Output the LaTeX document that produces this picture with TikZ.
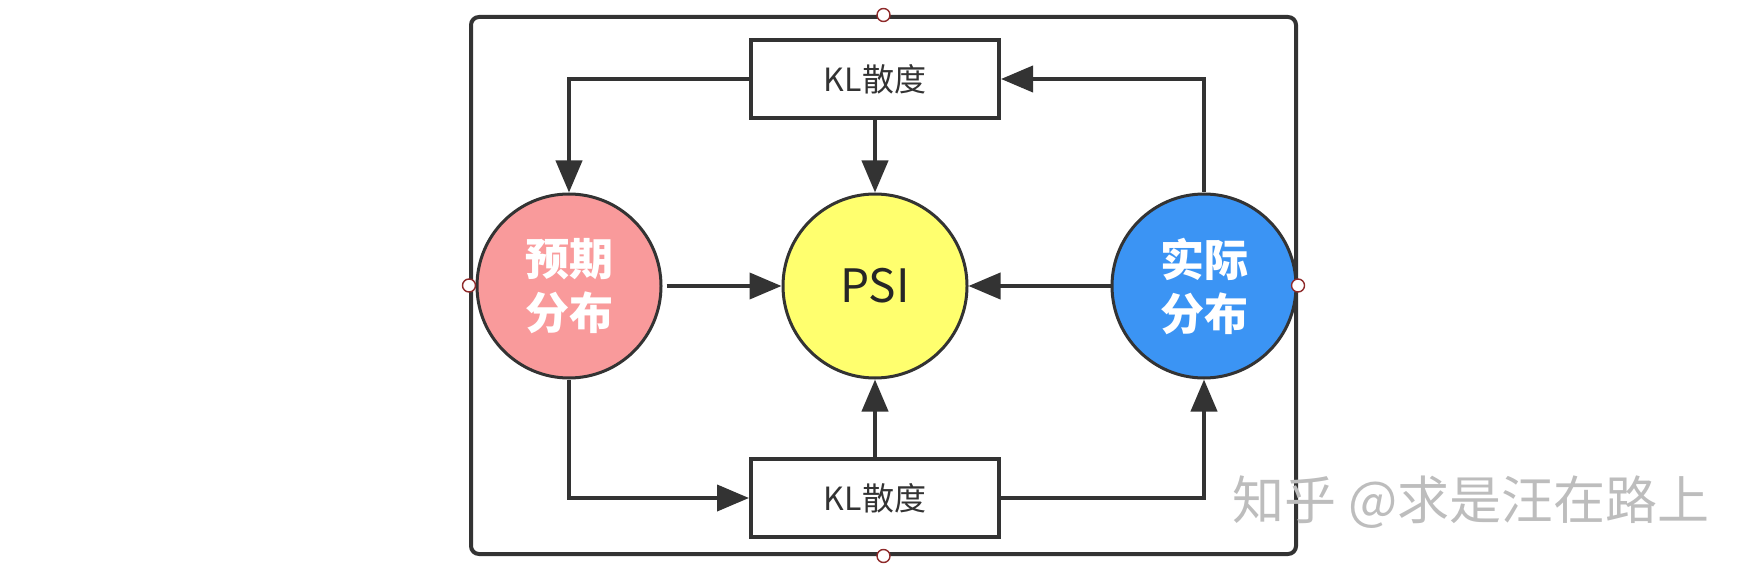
\documentclass[tikz,border=0pt]{standalone}
\usepackage{fontspec}
\setmainfont{Noto Sans CJK SC}
\usetikzlibrary{arrows.meta}
\definecolor{linedark}{HTML}{333333}
\definecolor{expectfill}{HTML}{F99A9B}
\definecolor{psifill}{HTML}{FFFF6E}
\definecolor{actualfill}{HTML}{3B94F4}
\definecolor{handlered}{HTML}{8E2A2A}
\definecolor{marktext}{HTML}{BDBDBD}

\begin{document}
\begin{tikzpicture}[
    x=0.5pt, y=-0.5pt,
    >={Triangle[length=16pt, width=13pt]},
    every node/.style={inner sep=0pt},
    distcircle/.style={
        circle, draw=linedark, line width=1.5pt, minimum size=92pt,
        font=\bfseries\fontsize{22}{27}\selectfont, text=white, align=center
    },
    klbox/.style={
        draw=linedark, line width=2pt, fill=white,
        minimum width=124pt, minimum height=39pt,
        font=\fontsize{16}{18}\selectfont, text=linedark
    },
    framebox/.style={
        draw=linedark, line width=2pt, rounded corners=4pt,
        minimum width=412.5pt, minimum height=268.5pt
    },
    arrstyle/.style={->, line width=2pt, linedark},
    handle/.style={circle, draw=handlered, line width=0.7pt, fill=white, minimum size=6.5pt},
    marklabel/.style={font=\fontsize{26}{30}\selectfont, text=marktext, anchor=west},
]
\useasboundingbox (0,0) rectangle (1760,572);

% === Outer frame ===
\node[framebox] (frame) at (883.5,285.5) {};

% === Distributions and PSI ===
\node[distcircle, fill=expectfill] (pre) at (569,286) {预期\\分布};
\node[distcircle, fill=psifill, text=black!85, font=\fontsize{23}{26}\selectfont] (psi) at (875,286) {PSI};
\node[distcircle, fill=actualfill] (act) at (1204,286) {实际\\分布};

% === KL boxes ===
\node[klbox] (kltop) at (875,79) {KL散度};
\node[klbox] (klbot) at (875,498) {KL散度};

% === Arrows ===
\draw[arrstyle] (kltop.west) -| (pre.north);
\draw[arrstyle] (kltop.south) -- (psi.north);
\draw[arrstyle] (act.north) |- (kltop.east);
\draw[arrstyle, shorten <=2pt] (pre.east) -- (psi.west);
\draw[arrstyle] (act.west) -- (psi.east);
\draw[arrstyle] (pre.south) |- (klbot.west);
\draw[arrstyle] (klbot.north) -- (psi.south);
\draw[arrstyle] (klbot.east) -| (act.south);

% === Frame handles ===
\node[handle] (hn) at (frame.north) {};
\node[handle] (hs) at (frame.south) {};
\node[handle] (hw) at (frame.west) {};
\node[handle] (he) at (frame.east) {};

% === Watermark ===
\node[marklabel] (mark) at (1232,502) {知乎 @求是汪在路上};

\end{tikzpicture}
\end{document}
